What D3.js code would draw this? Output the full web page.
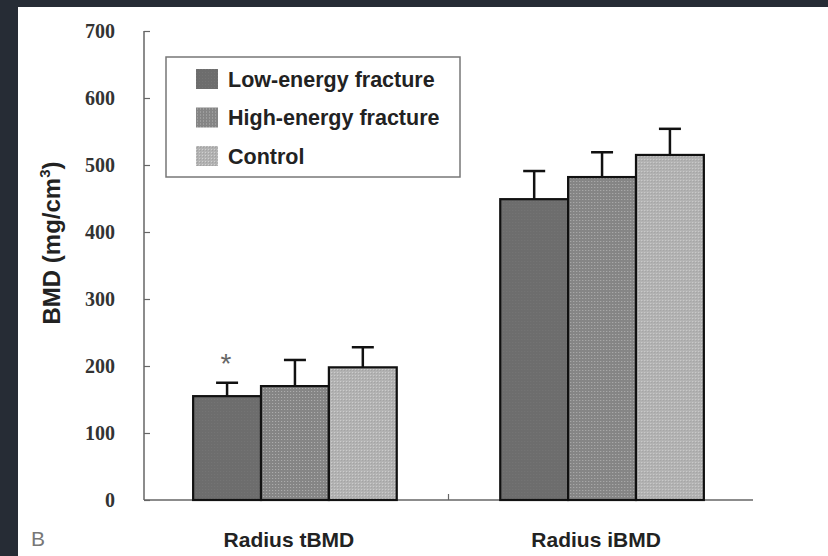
<!DOCTYPE html>
<html>
<head>
<meta charset="utf-8">
<script src="https://cdn.jsdelivr.net/npm/d3@7"></script>
<style>
  body { margin: 0; background: #262c35; }
  #chart { position: absolute; left: 0; top: 0; }
</style>
</head>
<body>
<div id="chart"></div>
<script>
// data
var groups = ["Radius tBMD", "Radius iBMD"];
var seriesNames = ["Low-energy fracture", "High-energy fracture", "Control"];
var meanValues = [[155, 170, 198], [449, 482, 515]];
var errValues = [[20, 39, 30], [42, 37, 39]];
var yTicks = [0, 100, 200, 300, 400, 500, 600, 700];

var W = 828, H = 556;

//Make an SVG Container
var svg = d3.select("#chart").append("svg")
  .attr("width", W)
  .attr("height", H);

// dark frame + white page
svg.append("rect").attr("x", 0).attr("y", 0).attr("width", W).attr("height", H).style("fill", "#262c35");
svg.append("rect").attr("x", 18).attr("y", 7).attr("width", W - 18).attr("height", H - 7).style("fill", "#ffffff");

// patterns for the textured bars
var defs = svg.append("defs");
var p1 = defs.append("pattern").attr("id", "pat1").attr("width", 3).attr("height", 3).attr("patternUnits", "userSpaceOnUse");
p1.append("rect").attr("width", 3).attr("height", 3).style("fill", "#6d6d6d");
p1.append("rect").attr("width", 1).attr("height", 1).style("fill", "#757575");

var p2 = defs.append("pattern").attr("id", "pat2").attr("width", 3).attr("height", 3).attr("patternUnits", "userSpaceOnUse");
p2.append("rect").attr("width", 3).attr("height", 3).style("fill", "#858585");
p2.append("rect").attr("x", 1).attr("y", 1).attr("width", 1).attr("height", 1).style("fill", "#b2b2b2");

var p3 = defs.append("pattern").attr("id", "pat3").attr("width", 3).attr("height", 3).attr("patternUnits", "userSpaceOnUse");
p3.append("rect").attr("width", 3).attr("height", 3).style("fill", "#b2b2b2");
p3.append("rect").attr("x", 0).attr("y", 0).attr("width", 1).attr("height", 1).style("fill", "#d0d0d0");
p3.append("rect").attr("x", 1).attr("y", 1).attr("width", 1).attr("height", 1).style("fill", "#a2a2a2");

var fills = ["url(#pat1)", "url(#pat2)", "url(#pat3)"];

// scales
var y = d3.scaleLinear().domain([0, 700]).range([500, 31]);
var x0 = d3.scaleBand().domain(groups).range([144, 753]).paddingInner(0.337).paddingOuter(0.16);
var x1 = d3.scaleBand().domain(d3.range(seriesNames.length)).range([0, x0.bandwidth()]);

// y axis
var yAxis = svg.append("g").attr("transform", "translate(144,0)")
  .call(d3.axisLeft(y).tickValues(yTicks).tickSize(-6).tickPadding(29));
yAxis.select(".domain").attr("d", "M0," + y(700) + "V" + y(0)).style("stroke", "#666").style("stroke-width", 1.5);
yAxis.selectAll(".tick line").style("stroke", "#666").style("stroke-width", 1.2);
yAxis.selectAll(".tick text")
  .style("font-family", "'Liberation Serif', 'DejaVu Serif', serif")
  .style("font-weight", "bold")
  .style("font-size", "20px")
  .style("fill", "#333");

// x axis line + separator tick between groups
svg.append("line")
  .attr("x1", 144).attr("y1", y(0)).attr("x2", 753).attr("y2", y(0))
  .attr("stroke", "#666").attr("stroke-width", 1.5);
var sepX = x0(groups[1]) - x0.step() * x0.paddingInner() / 2;
svg.append("line")
  .attr("x1", sepX).attr("x2", sepX).attr("y1", y(0)).attr("y2", y(0) - 6)
  .attr("stroke", "#666").attr("stroke-width", 1.2);

// bars
var gGroups = svg.selectAll(".grp").data(groups).enter().append("g")
  .attr("class", "grp")
  .attr("transform", function(d) { return "translate(" + x0(d) + ",0)"; });

gGroups.each(function(g, gi) {
  var sel = d3.select(this);
  meanValues[gi].forEach(function(v, si) {
    var bx = x1(si), bw = x1.bandwidth();
    var cx = bx + bw / 2;
    var top = y(v + errValues[gi][si]);
    // error bar
    sel.append("line").attr("x1", cx).attr("x2", cx).attr("y1", y(v)).attr("y2", top)
      .attr("stroke", "#111").attr("stroke-width", 2.5);
    sel.append("line").attr("x1", cx - 11).attr("x2", cx + 11).attr("y1", top).attr("y2", top)
      .attr("stroke", "#111").attr("stroke-width", 2.5);
    // bar
    sel.append("rect")
      .attr("x", bx).attr("y", y(v))
      .attr("width", bw).attr("height", y(0) - y(v))
      .style("fill", fills[si]).style("stroke", "#111").style("stroke-width", 2.2);
  });
});

// asterisk over low-energy tBMD
svg.append("text")
  .attr("x", x0(groups[0]) + x1(0) + x1.bandwidth() / 2 - 1)
  .attr("y", y(meanValues[0][0] + errValues[0][0]) - 10)
  .attr("text-anchor", "middle")
  .style("font-family", "Arial, 'Liberation Sans', sans-serif")
  .style("font-size", "28px").style("fill", "#666")
  .text("*");

// x labels
svg.selectAll(".xlab").data(groups).enter().append("text")
  .attr("class", "xlab")
  .attr("x", function(d) { return x0(d) + x0.bandwidth() / 2 - 6; })
  .attr("y", 547)
  .attr("text-anchor", "middle")
  .style("font-family", "Arial, 'Liberation Sans', sans-serif")
  .style("font-weight", "bold").style("font-size", "21px").style("fill", "#222")
  .text(function(d) { return d; });

// y label
var yl = svg.append("text")
  .attr("transform", "translate(60,243) rotate(-90)")
  .attr("text-anchor", "middle")
  .style("font-family", "Arial, 'Liberation Sans', sans-serif")
  .style("font-weight", "bold").style("font-size", "24px").style("fill", "#222");
yl.append("tspan").text("BMD (mg/cm");
yl.append("tspan").attr("dy", -10).style("font-size", "15px").text("3");
yl.append("tspan").attr("dy", 10).text(")");

// panel letter
svg.append("text").attr("x", 31).attr("y", 546)
  .style("font-family", "Arial, 'Liberation Sans', sans-serif")
  .style("font-size", "21px").style("fill", "#777")
  .text("B");

// legend
svg.append("rect").attr("x", 166).attr("y", 57).attr("width", 294).attr("height", 120)
  .style("fill", "#fff").style("stroke", "#777").style("stroke-width", 1.5);
var leg = svg.selectAll(".leg").data(seriesNames).enter().append("g")
  .attr("class", "leg")
  .attr("transform", function(d, i) { return "translate(196," + (69 + i * 38.5) + ")"; });
leg.append("rect").attr("width", 22).attr("height", 20)
  .style("fill", function(d, i) { return fills[i]; });
leg.append("text").attr("x", 32).attr("y", 17.5)
  .style("font-family", "Arial, 'Liberation Sans', sans-serif")
  .style("font-weight", "bold").style("font-size", "21.5px").style("fill", "#222")
  .text(function(d) { return d; });
</script>
</body>
</html>
